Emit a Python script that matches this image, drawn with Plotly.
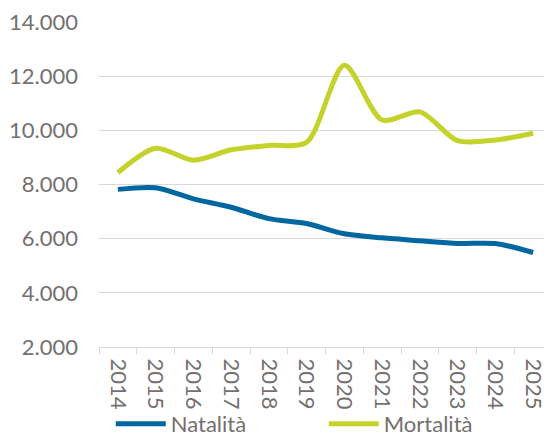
import plotly.graph_objects as go

anni = ["2014", "2015", "2016", "2017", "2018", "2019",
        "2020", "2021", "2022", "2023", "2024", "2025"]
natalita = [7820, 7880, 7470, 7160, 6740, 6560, 6180, 6030, 5920, 5820, 5820, 5490]
mortalita = [8440, 9340, 8900, 9280, 9440, 9560, 12400, 10380, 10680, 9620, 9640, 9890]
tick_y = [2000, 4000, 6000, 8000, 10000, 12000, 14000]

BLU = "#0067A0"
VERDE = "#C4D22B"
GRIGIO = "#747070"

fig = go.Figure()
fig.add_trace(go.Scatter(
    x=anni, y=natalita, name="Natalità", mode="lines",
    line=dict(color=BLU, width=5, shape="spline", smoothing=0.8),
))
fig.add_trace(go.Scatter(
    x=anni, y=mortalita, name="Mortalità", mode="lines",
    line=dict(color=VERDE, width=5, shape="spline", smoothing=0.8),
))

fig.update_xaxes(
    type="category",
    range=[-0.5, len(anni) - 0.5],
    tickangle=90,
    tickson="boundaries",
    ticks="outside", ticklen=6, tickcolor="#D9D9D9",
    showline=True, linecolor="#D9D9D9", linewidth=1,
    showgrid=False,
    automargin=False,
    ticklabelstandoff=6,
    tickfont=dict(size=22, color=GRIGIO),
)
fig.update_yaxes(
    range=[tick_y[0], tick_y[-1]],
    tickmode="array", tickvals=tick_y,
    tickformat=",d",
    showgrid=True, gridcolor="#D9D9D9", gridwidth=1,
    zeroline=False,
    automargin=False,
    ticklabeloverflow="allow",
    ticklabelstandoff=20,
    tickfont=dict(size=22, color=GRIGIO),
)

# the page body adds an 8px margin, so the figure is a bit smaller
fig.update_layout(
    width=544, height=437,
    separators=",.",
    plot_bgcolor="white", paper_bgcolor="white",
    font=dict(family="Lato", color=GRIGIO, size=22),
    margin=dict(l=91, r=0, t=14, b=94),
    showlegend=True,
    legend=dict(
        orientation="h",
        x=0.026, xanchor="left",
        y=-0.238, yanchor="middle",
        entrywidth=148, entrywidthmode="pixels",
        bgcolor="rgba(0,0,0,0)",
        font=dict(size=22, color=GRIGIO),
        itemwidth=50,
    ),
)

fig.write_html("out.html")
